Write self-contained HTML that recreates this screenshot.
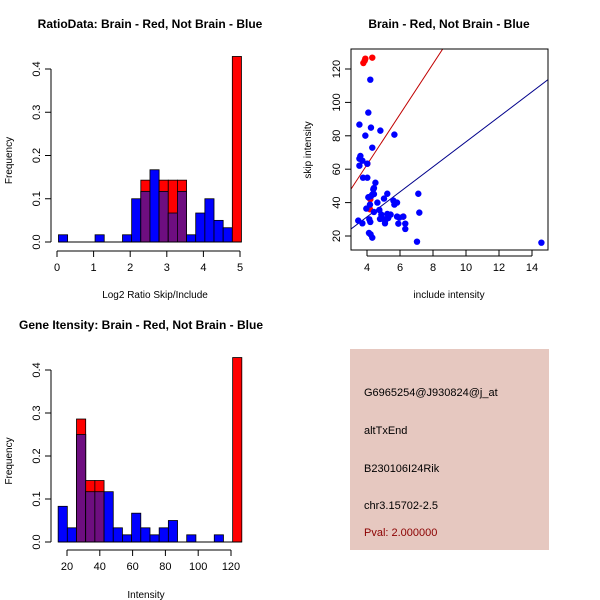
<!DOCTYPE html>
<html><head><meta charset="utf-8"><style>
body{margin:0;background:#fff}
svg{display:block;font-family:"Liberation Sans",sans-serif}
</style></head><body>
<svg id="c" width="600" height="600" xmlns="http://www.w3.org/2000/svg">
<rect x="350" y="349" width="199" height="201" fill="#E6C8C0"/>
<text x="364" y="396" font-size="11">G6965254@J930824@j_at</text>
<text x="364" y="434" font-size="11">altTxEnd</text>
<text x="364" y="472" font-size="11">B230106I24Rik</text>
<text x="364" y="509" font-size="11">chr3.15702-2.5</text>
<text x="364" y="536" font-size="11" fill="#8B0000">Pval: 2.000000</text>
</svg>
<script>
const h1Blue=[0.0167,0,0,0,0.0167,0,0,0.0167,0.1,0.117,0.167,0.117,0.067,0.117,0.0167,0.067,0.1,0.05,0.033,0];
const h1Red=[0,0,0,0,0,0,0,0,0,0.143,0,0.143,0.143,0.143,0,0,0,0,0,0.429];
const h1Start=0.04, h1Width=0.25;
const h1XTicks=[0,1,2,3,4,5];
const hYTicks=[0,0.1,0.2,0.3,0.4];
const h2Blue=[0.083,0.033,0.25,0.117,0.117,0.117,0.033,0.0167,0.067,0.033,0.0167,0.033,0.05,0,0.0167,0,0,0.0167,0,0];
const h2Red=[0,0,0.286,0.143,0.143,0,0,0,0,0,0,0,0,0,0,0,0,0,0,0.429];
const h2Start=14.6, h2Width=5.6;
const h2XTicks=[20,40,60,80,100,120];
const sBlueX=[4.20,4.08,3.54,4.24,4.81,3.90,5.66,4.32,3.60,3.54,3.72,3.54,4.02,3.76,4.02,4.51,4.42,4.38,4.08,4.24,4.42,4.32,5.23,4.63,5.03,4.18,5.60,5.82,5.66,7.11,7.17,3.96,4.42,4.75,4.87,5.23,5.43,4.95,5.15,5.82,5.96,6.20,5.09,5.29,4.79,3.47,3.72,4.14,4.20,5.90,6.32,6.32,4.12,4.22,4.32,7.03,14.57];
const sBlueY=[113.6,93.9,86.7,84.9,83.1,80.1,80.7,72.9,67.9,66.3,65.1,62.1,63.3,54.9,54.9,51.9,48.7,47.9,43.2,43.8,45.1,44.8,45.3,40.0,42.4,38.8,41.2,40.0,38.8,45.3,34.0,36.4,34.4,35.6,32.8,33.2,32.8,30.4,30.0,31.6,31.0,31.6,27.6,30.8,30.2,29.2,27.6,30.0,28.4,27.4,27.4,24.2,21.8,21.0,19.0,16.6,16.0];
const sRedX=[4.02,4.18,4.20,6.20,3.78,3.90,3.86,4.32];
const sRedY=[63.3,36.0,42.0,31.6,123.6,126.2,125.0,126.8];
const sXTicks=[4,6,8,10,12,14];
const sYTicks=[20,40,60,80,100,120];
const redFit=[2.3,15.1], blueFit=[1.5,7.49];

const svg=document.getElementById('c');
const NS='http://www.w3.org/2000/svg';
function mk(tag,attrs,parent){const e=document.createElementNS(NS,tag);for(const k in attrs)e.setAttribute(k,attrs[k]);(parent||svg).appendChild(e);return e;}
function txt(x,y,s,size,extra){const e=mk('text',Object.assign({x:x,y:y,'font-size':size,'text-anchor':'middle'},extra||{}));e.textContent=s;return e;}

function hist(blue,red,start,width,sx,sy,xticks,xAxisY,title,titleX,titleY,xlabel,xlabY,pref){
  const g=mk('g',{});
  
  
  for(let i=0;i<blue.length;i++){
    const x0=sx(start+i*width),x1=sx(start+(i+1)*width);
    const b=blue[i],r=red[i],m=Math.min(b,r);
    if(b>0){const e=mk('rect',{x:x0,y:sy(b),width:x1-x0,height:sy(0)-sy(b),fill:'#0000FF',stroke:'#000','stroke-width':0.8},g);
      
      }
    if(r>0){const e=mk('rect',{x:x0,y:sy(r),width:x1-x0,height:sy(0)-sy(r),fill:'#FF0000',stroke:'#000','stroke-width':0.8},g);
      
      }
    if(m>0){const e=mk('rect',{x:x0,y:sy(m),width:x1-x0,height:sy(0)-sy(m),fill:'#6E0E80',stroke:'#000','stroke-width':0.8},g);
      
      }
  }
  mk('line',{x1:sx(start),x2:sx(start+blue.length*width),y1:sy(0),y2:sy(0),stroke:'#000'},g);
  mk('line',{x1:51,x2:51,y1:sy(0),y2:sy(0.4),stroke:'#000'},g);
  hYTicks.forEach(v=>{mk('line',{x1:45,x2:51,y1:sy(v),y2:sy(v),stroke:'#000'},g);
    const t=txt(40,sy(v),v.toFixed(1),11,{transform:'rotate(-90 40 '+sy(v)+')'});
    
    });
  mk('line',{x1:sx(xticks[0]),x2:sx(xticks[xticks.length-1]),y1:xAxisY,y2:xAxisY,stroke:'#000'},g);
  xticks.forEach(v=>{mk('line',{x1:sx(v),x2:sx(v),y1:xAxisY,y2:xAxisY+6,stroke:'#000'},g);
    const t=txt(sx(v),xAxisY+20,String(v),11);
    
    });
  const yl=txt(12,(sy(0)+sy(0.4))/2+5,'Frequency',10,{transform:'rotate(-90 12 '+((sy(0)+sy(0.4))/2+5)+')'});
  
  
  const xl=txt(titleX+5,xlabY,xlabel,10);
  
  
  const tt=txt(titleX,titleY,title,12,{'font-weight':'bold'});
  
  
}
hist(h1Blue,h1Red,h1Start,h1Width,v=>57+v*36.6,v=>242-v*432.5,h1XTicks,251,'RatioData: Brain - Red, Not Brain - Blue',150,28,'Log2 Ratio Skip/Include',298,'ratio');
hist(h2Blue,h2Red,h2Start,h2Width,v=>67+(v-20)*1.64,v=>542-v*430,h2XTicks,550,'Gene Itensity: Brain - Red, Not Brain - Blue',141,329,'Intensity',598,'intensity');

// scatter
const SX=v=>367+(v-4)*16.5, SY=v=>236-(v-20)*1.67;
const sg=mk('g',{});


const clip=mk('clipPath',{id:'cp'},sg);mk('rect',{x:351,y:49,width:197,height:201},clip);
function fitLine(f,col,name){const e=mk('line',{x1:SX(3),y1:SY(f[0]+f[1]*3),x2:SX(15),y2:SY(f[0]+f[1]*15),stroke:col,'stroke-width':1,'clip-path':'url(#cp)'},sg);
  
  }
fitLine(redFit,'#C00000','red-fit-line');
fitLine(blueFit,'#00008B','blue-fit-line');
for(let i=0;i<4;i++){const e=mk('circle',{cx:SX(sRedX[i]),cy:SY(sRedY[i]),r:3.2,fill:'#FF0000'},sg);
  
  }
for(let i=0;i<sBlueX.length;i++){const e=mk('circle',{cx:SX(sBlueX[i]),cy:SY(sBlueY[i]),r:3.2,fill:'#0000FF'},sg);
  
  }
for(let i=4;i<sRedX.length;i++){const e=mk('circle',{cx:SX(sRedX[i]),cy:SY(sRedY[i]),r:3.2,fill:'#FF0000'},sg);
  
  }
mk('rect',{x:351,y:49,width:197,height:201,fill:'none',stroke:'#000'},sg);
mk('line',{x1:SX(4),x2:SX(14),y1:256,y2:256,stroke:'#000'},sg);
sXTicks.forEach(v=>{mk('line',{x1:SX(v),x2:SX(v),y1:250,y2:256,stroke:'#000'},sg);
  const t=txt(SX(v),271,String(v),11);
  
  });
sYTicks.forEach(v=>{mk('line',{x1:345,x2:351,y1:SY(v),y2:SY(v),stroke:'#000'},sg);
  const t=txt(340,SY(v),String(v),11,{transform:'rotate(-90 340 '+SY(v)+')'});
  
  });
const sxl=txt(449,298,'include intensity',10);


const syl=txt(311,150,'skip intensity',10,{transform:'rotate(-90 311 150)'});


const st=txt(449,28,'Brain - Red, Not Brain - Blue',12,{'font-weight':'bold'});


</script>
</body></html>
